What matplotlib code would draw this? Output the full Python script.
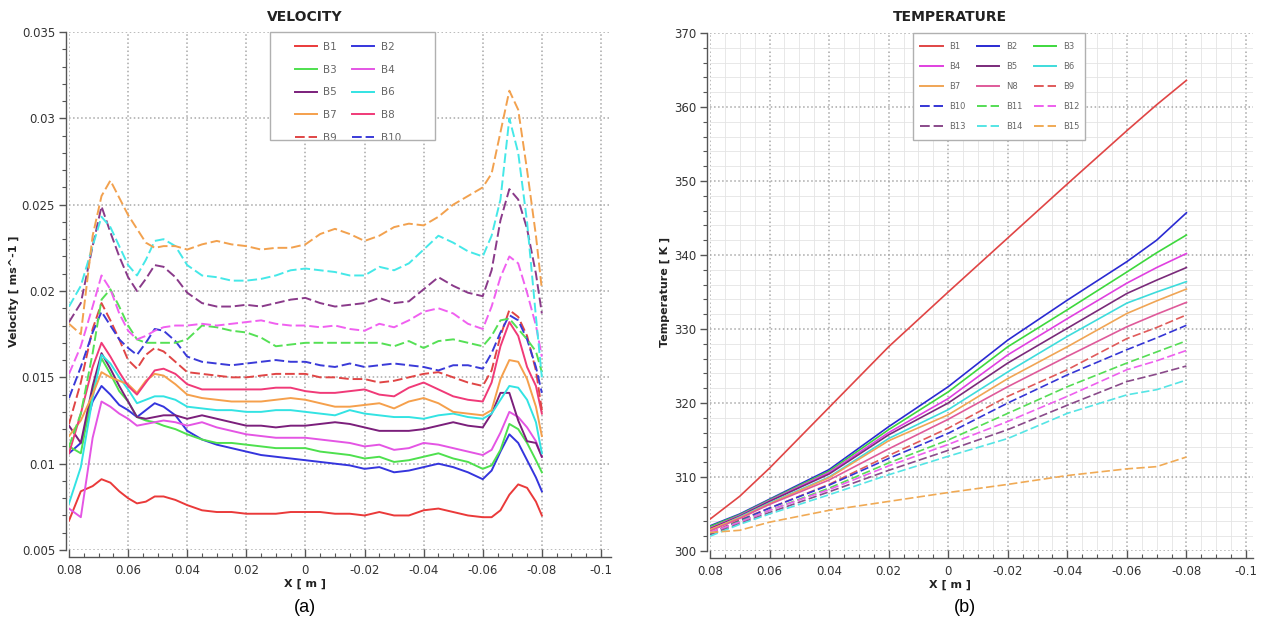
import matplotlib
matplotlib.use('Agg')
import matplotlib.pyplot as plt
from matplotlib.ticker import MultipleLocator, FuncFormatter
from matplotlib.patches import Rectangle
from matplotlib.lines import Line2D
from matplotlib.text import Text

plt.rcParams['font.family'] = ['DejaVu Sans']
plt.rcParams['axes.unicode_minus'] = False

# ---------------- data: velocity ----------------
x_vel = [0.08, 0.076, 0.072, 0.069, 0.066, 0.063, 0.06, 0.057, 0.054, 0.051,
         0.048, 0.044, 0.04, 0.035, 0.03, 0.025, 0.02, 0.015, 0.01, 0.005,
         0.0, -0.005, -0.01, -0.015, -0.02, -0.025, -0.03, -0.035, -0.04, -0.045,
         -0.05, -0.055, -0.06, -0.063, -0.066, -0.069, -0.072, -0.075, -0.078, -0.08]

v_B1 = [0.0067, 0.0084, 0.0087, 0.0091, 0.0089, 0.0084, 0.0080, 0.0077, 0.0078, 0.0081,
        0.0081, 0.0079, 0.0076, 0.0073, 0.0072, 0.0072, 0.0071, 0.0071, 0.0071, 0.0072,
        0.0072, 0.0072, 0.0071, 0.0071, 0.0070, 0.0072, 0.0070, 0.0070, 0.0073, 0.0074,
        0.0072, 0.0070, 0.0069, 0.0069, 0.0073, 0.0082, 0.0088, 0.0086, 0.0078, 0.0070]
v_B2 = [0.0106, 0.0112, 0.0136, 0.0145, 0.0140, 0.0134, 0.0131, 0.0127, 0.0131, 0.0135,
        0.0133, 0.0128, 0.0119, 0.0114, 0.0111, 0.0109, 0.0107, 0.0105, 0.0104, 0.0103,
        0.0102, 0.0101, 0.0100, 0.0099, 0.0097, 0.0098, 0.0095, 0.0096, 0.0098, 0.0100,
        0.0098, 0.0095, 0.0091, 0.0096, 0.0107, 0.0117, 0.0112, 0.0102, 0.0092, 0.0084]
v_B3 = [0.0110, 0.0106, 0.0142, 0.0161, 0.0152, 0.0142, 0.0136, 0.0127, 0.0125, 0.0124,
        0.0122, 0.0120, 0.0117, 0.0114, 0.0112, 0.0112, 0.0111, 0.0110, 0.0109, 0.0109,
        0.0109, 0.0107, 0.0106, 0.0105, 0.0103, 0.0104, 0.0101, 0.0102, 0.0104, 0.0106,
        0.0103, 0.0101, 0.0097, 0.0099, 0.0108, 0.0123, 0.0120, 0.0112, 0.0102, 0.0095]
v_B4 = [0.0074, 0.0069, 0.0115, 0.0136, 0.0133, 0.0129, 0.0126, 0.0122, 0.0123, 0.0124,
        0.0125, 0.0124, 0.0122, 0.0124, 0.0121, 0.0119, 0.0117, 0.0116, 0.0115, 0.0115,
        0.0115, 0.0114, 0.0113, 0.0112, 0.0110, 0.0111, 0.0108, 0.0109, 0.0112, 0.0111,
        0.0109, 0.0107, 0.0105, 0.0108, 0.0118, 0.0130, 0.0127, 0.0121, 0.0113, 0.0104]
v_B5 = [0.0122, 0.0112, 0.0145, 0.0164, 0.0155, 0.0145, 0.0136, 0.0127, 0.0126, 0.0127,
        0.0128, 0.0128, 0.0126, 0.0128, 0.0126, 0.0124, 0.0122, 0.0122, 0.0121, 0.0122,
        0.0122, 0.0123, 0.0124, 0.0123, 0.0121, 0.0119, 0.0119, 0.0119, 0.0120, 0.0122,
        0.0124, 0.0122, 0.0121, 0.0129, 0.0141, 0.0141, 0.0125, 0.0113, 0.0112, 0.0104]
v_B6 = [0.0077, 0.0098, 0.0138, 0.0163, 0.0158, 0.0150, 0.0143, 0.0135, 0.0137, 0.0139,
        0.0139, 0.0137, 0.0133, 0.0132, 0.0131, 0.0131, 0.0130, 0.0130, 0.0131, 0.0131,
        0.0130, 0.0129, 0.0128, 0.0131, 0.0129, 0.0128, 0.0127, 0.0127, 0.0126, 0.0128,
        0.0129, 0.0127, 0.0126, 0.0129, 0.0137, 0.0145, 0.0144, 0.0137, 0.0124, 0.0106]
v_B7 = [0.0116, 0.0125, 0.0140, 0.0153, 0.0150, 0.0148, 0.0146, 0.0141, 0.0148, 0.0152,
        0.0151, 0.0146, 0.0140, 0.0138, 0.0137, 0.0136, 0.0136, 0.0136, 0.0137, 0.0138,
        0.0137, 0.0135, 0.0133, 0.0133, 0.0134, 0.0135, 0.0132, 0.0136, 0.0138, 0.0135,
        0.0130, 0.0129, 0.0128, 0.0131, 0.0149, 0.0160, 0.0159, 0.0149, 0.0133, 0.0116]
v_B8 = [0.0106, 0.0129, 0.0156, 0.0170, 0.0162, 0.0153, 0.0145, 0.0140, 0.0147, 0.0154,
        0.0155, 0.0152, 0.0146, 0.0143, 0.0143, 0.0143, 0.0143, 0.0143, 0.0144, 0.0144,
        0.0142, 0.0141, 0.0141, 0.0142, 0.0143, 0.0140, 0.0139, 0.0144, 0.0147, 0.0143,
        0.0139, 0.0137, 0.0136, 0.0147, 0.0168, 0.0182, 0.0174, 0.0156, 0.0145, 0.0129]
v_B9 = [0.0123, 0.0147, 0.0178, 0.0193, 0.0183, 0.0172, 0.0160, 0.0155, 0.0163, 0.0167,
        0.0165, 0.0159, 0.0153, 0.0152, 0.0151, 0.0150, 0.0150, 0.0151, 0.0152, 0.0152,
        0.0152, 0.0150, 0.0150, 0.0149, 0.0149, 0.0147, 0.0148, 0.0150, 0.0152, 0.0153,
        0.0150, 0.0147, 0.0145, 0.0154, 0.0174, 0.0189, 0.0185, 0.0174, 0.0154, 0.0131]
v_B10 = [0.0138, 0.0156, 0.0176, 0.0188, 0.0180, 0.0172, 0.0167, 0.0163, 0.0170, 0.0178,
         0.0177, 0.0171, 0.0162, 0.0159, 0.0158, 0.0157, 0.0158, 0.0159, 0.0160, 0.0159,
         0.0159, 0.0157, 0.0156, 0.0158, 0.0156, 0.0157, 0.0158, 0.0157, 0.0156, 0.0154,
         0.0157, 0.0157, 0.0155, 0.0164, 0.0176, 0.0186, 0.0183, 0.0172, 0.0156, 0.0141]
v_B11 = [0.0110, 0.0129, 0.0164, 0.0195, 0.0201, 0.0191, 0.0180, 0.0172, 0.0170, 0.0170,
         0.0170, 0.0170, 0.0172, 0.0180, 0.0179, 0.0177, 0.0176, 0.0173, 0.0168, 0.0169,
         0.0170, 0.0170, 0.0170, 0.0170, 0.0170, 0.0170, 0.0168, 0.0171, 0.0167, 0.0171,
         0.0172, 0.0170, 0.0168, 0.0174, 0.0183, 0.0184, 0.0178, 0.0172, 0.0165, 0.0153]
v_B12 = [0.0152, 0.0168, 0.0191, 0.0209, 0.0201, 0.0187, 0.0177, 0.0172, 0.0174, 0.0177,
         0.0179, 0.0180, 0.0180, 0.0181, 0.0180, 0.0181, 0.0182, 0.0183, 0.0181, 0.0180,
         0.0180, 0.0179, 0.0180, 0.0178, 0.0177, 0.0181, 0.0179, 0.0183, 0.0188, 0.0190,
         0.0187, 0.0181, 0.0178, 0.0191, 0.0208, 0.0220, 0.0216, 0.0199, 0.0180, 0.0162]
v_B13 = [0.0182, 0.0193, 0.0226, 0.0249, 0.0234, 0.0220, 0.0208, 0.0200, 0.0207, 0.0215,
         0.0214, 0.0208, 0.0199, 0.0193, 0.0191, 0.0191, 0.0192, 0.0191, 0.0193, 0.0195,
         0.0196, 0.0193, 0.0191, 0.0192, 0.0193, 0.0196, 0.0193, 0.0194, 0.0201, 0.0208,
         0.0203, 0.0199, 0.0197, 0.0212, 0.0241, 0.0259, 0.0253, 0.0236, 0.0210, 0.0187]
v_B14 = [0.0191, 0.0203, 0.0226, 0.0243, 0.0237, 0.0226, 0.0215, 0.0209, 0.0218, 0.0229,
         0.0230, 0.0226, 0.0215, 0.0209, 0.0208, 0.0206, 0.0206, 0.0207, 0.0209, 0.0212,
         0.0213, 0.0212, 0.0211, 0.0209, 0.0209, 0.0214, 0.0212, 0.0216, 0.0224, 0.0232,
         0.0228, 0.0223, 0.0220, 0.0232, 0.0253, 0.0300, 0.0280, 0.0240, 0.0185, 0.0150]
v_B15 = [0.0181, 0.0175, 0.0232, 0.0255, 0.0264, 0.0254, 0.0244, 0.0236, 0.0228, 0.0225,
         0.0226, 0.0226, 0.0224, 0.0227, 0.0229, 0.0227, 0.0226, 0.0224, 0.0225, 0.0225,
         0.0227, 0.0233, 0.0236, 0.0233, 0.0229, 0.0232, 0.0237, 0.0239, 0.0238, 0.0243,
         0.0250, 0.0255, 0.0260, 0.0268, 0.0292, 0.0316, 0.0305, 0.0270, 0.0232, 0.0201]

# ---------------- data: temperature ----------------
x_temp = [0.08, 0.07, 0.06, 0.04, 0.02, 0.0, -0.02, -0.04, -0.06, -0.07, -0.08]
T_B1 = [304.3, 307.4, 311.2, 319.4, 327.6, 335.0, 342.3, 349.6, 356.8, 360.3, 363.6]
T_B2 = [303.4, 305.0, 307.0, 311.0, 316.8, 322.2, 328.5, 333.9, 339.1, 342.0, 345.7]
T_B3 = [303.3, 304.9, 306.9, 310.8, 316.4, 321.5, 327.6, 332.6, 337.7, 340.3, 342.7]
T_B4 = [303.1, 304.8, 306.8, 310.6, 316.0, 320.6, 326.5, 331.4, 336.2, 338.3, 340.2]
T_B5 = [303.0, 304.7, 306.7, 310.4, 315.7, 320.0, 325.4, 330.1, 334.8, 336.6, 338.3]
T_B6 = [302.8, 304.6, 306.5, 310.0, 315.2, 319.1, 324.2, 329.0, 333.5, 335.0, 336.4]
T_B7 = [302.9, 304.5, 306.4, 309.9, 314.9, 318.4, 323.3, 327.6, 332.1, 333.8, 335.4]
T_B8 = [302.7, 304.4, 306.3, 309.6, 313.8, 317.8, 322.2, 326.3, 330.3, 332.0, 333.6]
T_B9 = [302.4, 304.2, 305.8, 309.0, 312.9, 316.6, 320.9, 324.5, 328.7, 330.2, 331.9]
T_B10 = [302.3, 304.1, 305.8, 308.9, 312.5, 315.9, 320.0, 323.8, 327.2, 328.8, 330.5]
T_B11 = [302.4, 304.0, 305.5, 308.5, 311.9, 315.0, 318.6, 322.2, 325.4, 326.9, 328.4]
T_B12 = [302.5, 303.9, 305.5, 308.3, 311.5, 314.4, 317.5, 320.9, 324.5, 325.7, 327.1]
T_B13 = [302.2, 303.7, 305.2, 308.0, 310.9, 313.6, 316.4, 319.7, 322.9, 323.9, 325.0]
T_B14 = [302.0, 303.6, 305.0, 307.6, 310.3, 312.8, 315.2, 318.6, 321.1, 321.8, 323.1]
T_B15 = [302.5, 302.8, 303.9, 305.5, 306.7, 307.9, 309.0, 310.2, 311.1, 311.4, 312.7]

vel_series = [v_B1, v_B2, v_B3, v_B4, v_B5, v_B6, v_B7, v_B8,
              v_B9, v_B10, v_B11, v_B12, v_B13, v_B14, v_B15]
temp_series = [T_B1, T_B2, T_B3, T_B4, T_B5, T_B6, T_B7, T_B8,
               T_B9, T_B10, T_B11, T_B12, T_B13, T_B14, T_B15]
vel_labels = ['B1', 'B2', 'B3', 'B4', 'B5', 'B6', 'B7', 'B8', 'B9', 'B10',
              'B11', 'B12', 'B13', 'B14', 'B15']
temp_labels = ['B1', 'B2', 'B3', 'B4', 'B5', 'B6', 'B7', 'N8', 'B9', 'B10',
               'B11', 'B12', 'B13', 'B14', 'B15']

# ---------------- styles ----------------
vel_colors = ['#ea3a3a', '#3535dd', '#4ee04e', '#e455e4', '#7b1f7b', '#33e3e3',
              '#f5a04c', '#f03a78', '#e04545', '#3a3ad8', '#55e055', '#f060f0',
              '#8a3a8a', '#45e8e8', '#f2a14e']
temp_colors = ['#e04545', '#2a2ad2', '#3dd83d', '#e040e0', '#7a2a7a', '#3edcdc',
               '#f0a555', '#df5a9a', '#e05a5a', '#3535d5', '#55dd55', '#ee5fee',
               '#8a4a8a', '#55e5e5', '#f0aa55']
styles = ['-'] * 8 + [(0, (5, 2))] * 7

fig = plt.figure(figsize=(12.61, 6.28), dpi=100)
axv = fig.add_axes([69 / 1261, 1 - 550 / 628, (611.3 - 69) / 1261, 518 / 628])
axt = fig.add_axes([710 / 1261, 1 - 551 / 628, (1253.4 - 710) / 1261, 518 / 628])

fmt = FuncFormatter(lambda v, p: '0' if abs(v) < 1e-12 else ('%g' % round(v, 6)))

for i, ys in enumerate(vel_series):
    axv.plot(x_vel, ys, color=vel_colors[i], ls=styles[i], lw=1.4, zorder=2)
for i, ys in enumerate(temp_series):
    axt.plot(x_temp, ys, color=temp_colors[i], ls=styles[i], lw=1.2, zorder=2)


def style_axes(ax, minor_grid):
    for s in ['top', 'right']:
        ax.spines[s].set_visible(False)
    ax.spines['left'].set_position(('outward', 2))
    ax.spines['bottom'].set_position(('outward', 5))
    for s in ['left', 'bottom']:
        ax.spines[s].set_color('#555555')
        ax.spines[s].set_linewidth(1.0)
    ax.tick_params(axis='y', which='major', direction='out', length=5, width=1,
                   colors='#555555', labelcolor='#333333', labelsize=8.5, pad=3)
    ax.tick_params(axis='y', which='minor', direction='out', length=3, width=0.8,
                   colors='#555555')
    ax.tick_params(axis='x', which='major', direction='in', length=6, width=1,
                   colors='#555555', labelcolor='#333333', labelsize=8.5, pad=5)
    ax.tick_params(axis='x', which='minor', direction='in', length=3, width=0.8,
                   colors='#555555')
    ax.xaxis.set_major_locator(MultipleLocator(0.02))
    ax.xaxis.set_minor_locator(MultipleLocator(0.005))
    ax.xaxis.set_major_formatter(fmt)
    ax.yaxis.set_major_formatter(fmt)
    if minor_grid:
        ax.grid(True, which='minor', ls='-', color='#e4e4e4', lw=0.6, zorder=0)
    ax.grid(True, which='major', ls=':', color='#a8a8a8', lw=1.1, zorder=0)
    ax.set_axisbelow(True)


style_axes(axv, False)
style_axes(axt, True)
axv.yaxis.set_major_locator(MultipleLocator(0.005))
axv.yaxis.set_minor_locator(MultipleLocator(0.001))
axt.yaxis.set_major_locator(MultipleLocator(10))
axt.yaxis.set_minor_locator(MultipleLocator(2))


def boxed_legend(ax, order, colors, labels, ncol, box, anchor, fontsize,
                 labelspacing, handlelength, handletextpad, columnspacing, lw):
    rect = Rectangle((box[0], box[1]), box[2] - box[0], box[3] - box[1],
                     transform=ax.transAxes, facecolor='white', edgecolor='#b0b0b0',
                     lw=1.0, zorder=4, clip_on=False)
    ax.add_patch(rect)
    handles = [Line2D([], [], color=colors[i], ls=styles[i], lw=lw) for i in order]
    labs = [labels[i] for i in order]
    leg = ax.legend(handles, labs, ncol=ncol, loc='upper left', bbox_to_anchor=anchor,
                    frameon=False, borderpad=0, borderaxespad=0, fontsize=fontsize,
                    labelspacing=labelspacing, handlelength=handlelength,
                    handletextpad=handletextpad, columnspacing=columnspacing)
    leg.set_zorder(5)
    for t in leg.get_texts():
        t.set_color('#666666')
    for a in leg.findobj(lambda a: isinstance(a, (Line2D, Text))):
        a.set_clip_path(rect)
    return leg


boxed_legend(axv, [0, 2, 4, 6, 8, 1, 3, 5, 7, 9], vel_colors, vel_labels, 2,
             (0.3706, 0.7915, 0.6749, 1.0), (0.4167, 0.9807), 7.5,
             1.22, 2.1, 0.6, 1.5, 1.4)
boxed_legend(axt, [0, 3, 6, 9, 12, 1, 4, 7, 10, 13, 2, 5, 8, 11, 14], temp_colors,
             temp_labels, 3, (0.3736, 0.7934, 0.6901, 1.0), (0.3865, 0.9826), 6,
             1.33, 2.7, 0.85, 1.3, 1.4)

axv.set_xlim(0.08, -0.1035)
axv.set_ylim(0.005, 0.035)
axt.set_xlim(0.08, -0.1025)
axt.set_ylim(300, 370)

axv.set_ylabel('Velocity [ ms^-1 ]', fontsize=8, fontweight='bold', color='#222222')
axv.yaxis.set_label_coords(-0.0922, 0.5)
axt.set_ylabel('Temperature [ K ]', fontsize=8, fontweight='bold', color='#222222')
axt.yaxis.set_label_coords(-0.0736, 0.5)
axv.set_xlabel('X [ m ]', fontsize=8, fontweight='bold', color='#222222')
axv.xaxis.set_label_coords(0.435, -0.056)
axt.set_xlabel('X [ m ]', fontsize=8, fontweight='bold', color='#222222')
axt.xaxis.set_label_coords(0.4417, -0.056)

axv.text(0.435, 1.029, 'VELOCITY', transform=axv.transAxes, ha='center', va='center',
         fontsize=10, fontweight='bold', color='#222222')
axt.text(0.4417, 1.031, 'TEMPERATURE', transform=axt.transAxes, ha='center', va='center',
         fontsize=10, fontweight='bold', color='#222222')

fig.text(305 / 1261, 1 - 607 / 628, '(a)', ha='center', va='center', fontsize=13,
         family=['Liberation Sans', 'DejaVu Sans'])
fig.text(965 / 1261, 1 - 607 / 628, '(b)', ha='center', va='center', fontsize=13,
         family=['Liberation Sans', 'DejaVu Sans'])

fig.savefig('out.png', dpi=100, facecolor='white')
